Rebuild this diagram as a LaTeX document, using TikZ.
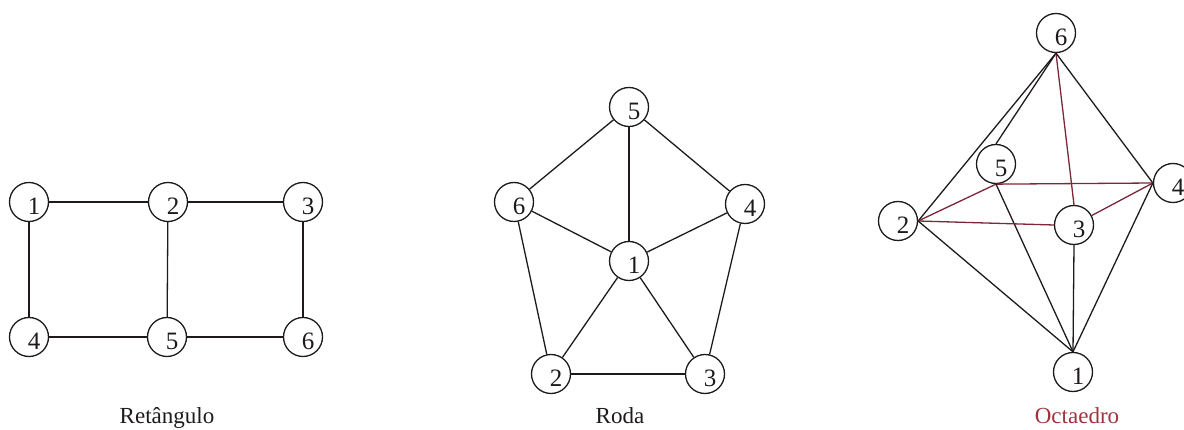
\documentclass[tikz,border=0pt]{standalone}
\usepackage{fontspec}
\setmainfont{Liberation Serif}
\definecolor{octred}{RGB}{125,38,55}
\definecolor{labred}{RGB}{160,50,62}
\definecolor{inkc}{RGB}{30,26,26}
\newcommand{\dg}[1]{\hspace*{10pt}\raisebox{-13pt}[0pt][0pt]{#1}}
\begin{document}
\begin{tikzpicture}[x=1pt,y=-1pt,
  vtx/.style={circle,draw=inkc,line width=1.3pt,minimum size=39pt,inner sep=0pt,
    font=\fontsize{25}{27}\selectfont,text=inkc},
  edg/.style={draw=inkc,line width=1.3pt},
  redg/.style={draw=octred,line width=1.3pt},
  captxt/.style={font=\fontsize{23}{26}\selectfont,anchor=base,text=inkc}]
\useasboundingbox (0,0) rectangle (1184,430);
% Retangulo
\node[vtx] (r1) at (29,202) {\dg{1}};
\node[vtx] (r2) at (168,202) {\dg{2}};
\node[vtx] (r3) at (303,202) {\dg{3}};
\node[vtx] (r4) at (29,337) {\dg{4}};
\node[vtx] (r5) at (167,337) {\dg{5}};
\node[vtx] (r6) at (303,337) {\dg{6}};
\draw[edg] (r1) -- (r2); \draw[edg] (r2) -- (r3);
\draw[edg] (r4) -- (r5); \draw[edg] (r5) -- (r6);
\draw[edg] (r1) -- (r4); \draw[edg] (r2) -- (r5); \draw[edg] (r3) -- (r6);
\node[captxt] (rlab) at (167,423) {Retângulo};
% Roda
\node[vtx] (w5) at (629,107) {\dg{5}};
\node[vtx] (w6) at (514,202) {\dg{6}};
\node[vtx] (w4) at (745,204) {\dg{4}};
\node[vtx] (w1) at (629,261) {\dg{1}};
\node[vtx] (w2) at (551,374) {\dg{2}};
\node[vtx] (w3) at (705,374) {\dg{3}};
\draw[edg] (w5) -- (w6); \draw[edg] (w5) -- (w4);
\draw[edg] (w6) -- (w2); \draw[edg] (w4) -- (w3);
\draw[edg] (w2) -- (w3);
\foreach \k in {2,3,4,5,6} {\draw[edg] (w1) -- (w\k);}
\node[captxt] (wlab) at (620,423) {Roda};
% Octaedro
\node[vtx] (o6) at (1056,33) {\dg{6}};
\node[vtx] (o5) at (996,164) {\dg{5}};
\node[vtx] (o2) at (898,221) {\dg{2}};
\node[vtx] (o3) at (1074,225) {\dg{3}};
\node[vtx] (o4) at (1173,183) {\dg{4}};
\node[vtx] (o1) at (1073,372) {\dg{1}};
\draw[edg] (o6.south) -- (o2.east);
\draw[edg] (o6.south) -- (o5.north);
\draw[redg] (o6.south) -- (o3.north);
\draw[edg] (o6.south) -- (o4.west);
\draw[redg] (o5.south) -- (o2.east);
\draw[redg] (o5.south) -- (o4.west);
\draw[edg] (o5.south) -- (o1.north);
\draw[redg] (o2.east) -- (o3.west);
\draw[edg] (o2.east) -- (o1.north);
\draw[redg] (o3) -- (o4.west);
\draw[edg] (o3.south) -- (o1.north);
\draw[edg] (o4.west) -- (o1.north);
\node[captxt,text=labred] (olab) at (1077,423) {Octaedro};
\end{tikzpicture}
\end{document}
